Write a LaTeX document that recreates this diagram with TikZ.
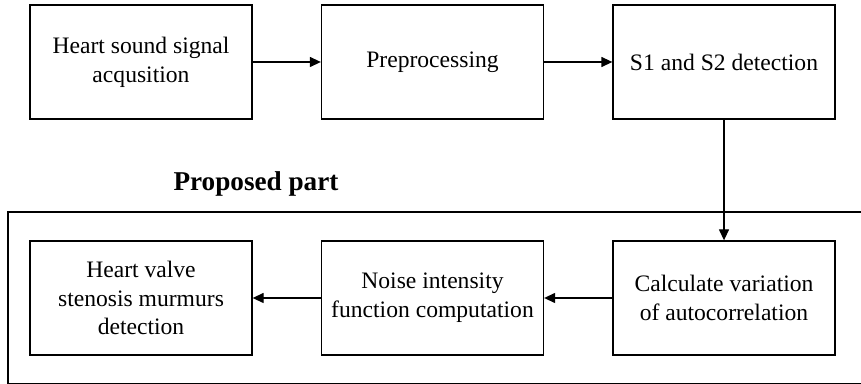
\documentclass[tikz,border=0pt]{standalone}
\usepackage{fontspec}
\setmainfont{Liberation Serif}
\usetikzlibrary{arrows.meta}
\begin{document}
\begin{tikzpicture}[x=0.5pt,y=-0.5pt,
  stepbox/.style={draw, line width=0.65pt, minimum width=111pt, minimum height=57pt,
    align=center, inner sep=0pt, font=\fontsize{11.8}{14.4}\selectfont},
  flow/.style={-{Triangle[length=5.5pt,width=5pt]}, line width=0.65pt},
  framebox/.style={line width=0.65pt}]
\clip (0,0) rectangle (861,384);
% upper row: existing pipeline
\node[stepbox] (acq) at (141,62) {Heart sound signal\\acqusition};
\node[stepbox] (pre) at (432.5,62) {Preprocessing};
\node[stepbox] (s12) at (724,62) {S1 and S2 detection};
% frame around the proposed stages
\draw[framebox] (875,212) -- (8,212) -- (8,383.5) -- (875,383.5);
\node[anchor=base, font=\fontsize{13.6}{16}\selectfont\bfseries] (title) at (256,191) {Proposed part};
% lower row: proposed stages
\node[stepbox] (calc) at (724,298) {Calculate variation\\of autocorrelation};
\node[stepbox] (noise) at (432.5,298) {Noise intensity\\function computation};
\node[stepbox] (valve) at (141,298) {Heart valve\\stenosis murmurs\\detection};
% connectors
\draw[flow] (acq) -- (pre);
\draw[flow] (pre) -- (s12);
\draw[flow] (s12.south) -- (calc.north);
\draw[flow] (calc) -- (noise);
\draw[flow] (noise) -- (valve);
\end{tikzpicture}
\end{document}
